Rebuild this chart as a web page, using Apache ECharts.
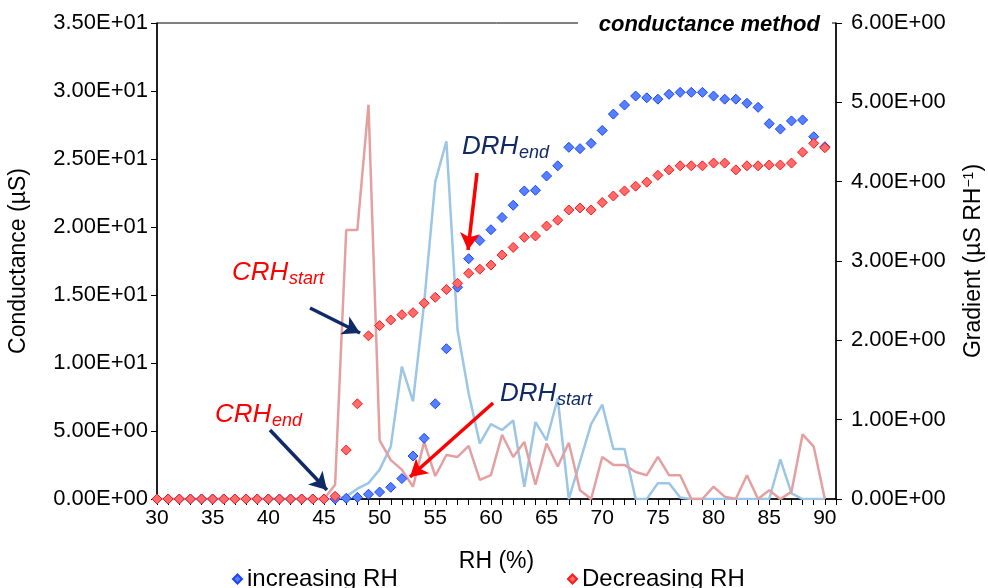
<!DOCTYPE html>
<html><head><meta charset="utf-8">
<script src="https://cdn.jsdelivr.net/npm/echarts@6/dist/echarts.min.js"></script>
<style>html,body{margin:0;padding:0;background:#fff}#c{width:988px;height:588px}</style>
</head><body><div id="c"></div>
<script>
// RH (%) values
const rh = [30,31,32,33,34,35,36,37,38,39,40,41,42,43,44,45,46,47,48,49,50,51,52,53,54,55,56,57,58,59,60,61,62,63,64,65,66,67,68,69,70,71,72,73,74,75,76,77,78,79,80,81,82,83,84,85,86,87,88,89,90];
// Conductance (µS), increasing RH
const incCond = [0,0,0,0,0,0,0,0,0,0,0,0,0,0,0,0,0,0.05,0.12,0.35,0.51,0.86,1.5,3.16,4.46,7.0,11.05,15.57,17.67,19.0,19.8,20.7,21.6,22.65,22.7,23.75,24.5,25.86,25.76,26.15,27.1,28.3,28.97,29.63,29.5,29.4,29.76,29.9,29.9,29.9,29.63,29.4,29.4,29.1,28.8,27.6,27.2,27.8,27.87,26.64,25.9];
// Conductance (µS), decreasing RH
const decCond = [0,0,0,0,0,0,0,0,0,0,0,0,0,0,0,0,0.2,3.6,7.0,12.0,12.75,13.16,13.55,13.7,14.4,14.83,15.4,15.86,16.6,16.9,17.2,17.94,18.5,19.24,19.34,20.07,20.5,21.25,21.4,21.25,21.8,22.28,22.65,23.0,23.3,23.8,24.2,24.5,24.5,24.5,24.7,24.7,24.2,24.5,24.5,24.56,24.56,24.7,25.5,26.15,25.83];
// Gradient (µS RH^-1), increasing RH
const incGrad = [0,0,0,0,0,0,0,0,0,0,0,0,0,0,0,0,0,0.03,0.13,0.2,0.37,0.66,1.67,1.23,2.47,4.0,4.51,2.13,1.33,0.7,0.945,0.87,0.99,0.155,0.97,0.74,1.27,0,0.47,0.945,1.19,0.63,0.63,0,0,0.2,0.2,0.02,0,0,0,0,0,0,0,0,0.5,0.07,0,0,0];
// Gradient (µS RH^-1), decreasing RH
const decGrad = [0,0,0,0,0,0,0,0,0,0,0,0,0,0,0,0,0.18,3.39,3.39,4.97,0.74,0.49,0.37,0.155,0.72,0.29,0.555,0.53,0.67,0.24,0.3,0.81,0.53,0.72,0.18,0.7,0.41,0.71,0.11,0,0.53,0.43,0.43,0.34,0.3,0.53,0.3,0.3,0,0,0.155,0.03,0,0.3,0,0.11,0,0.09,0.815,0.66,0];

// Annotation labels: [main, sub, x(RH), y(conductance), color]
const noteLabels = [
  ['DRH','end',57.40,25.87,'#0f2a66'],
  ['CRH','start',36.74,16.60,'#ff0000'],
  ['CRH','end',35.21,6.16,'#ff0000'],
  ['DRH','start',60.82,7.71,'#0f2a66']
];
// Annotation arrows: [x1,y1,x2,y2,color] in RH / conductance units
const noteArrows = [
  [58.75,23.97,57.94,18.31,'#ff0000'],
  [43.75,14.04,48.24,12.21,'#0f2a66'],
  [40.15,5.07,45.27,0.66,'#0f2a66'],
  [60.19,7.06,52.73,1.62,'#ff0000']
];

const FONT = '"Liberation Sans", Arial, sans-serif';
function fmtE(v){
  if (v === 0) return '0.00E+00';
  const e = Math.floor(Math.log10(Math.abs(v)) + 1e-9);
  const m = v / Math.pow(10, e);
  const ae = Math.abs(e);
  return m.toFixed(2) + 'E' + (e < 0 ? '-' : '+') + (ae < 10 ? '0' + ae : '' + ae);
}
const pairs = arr => rh.map((x, i) => [x, arr[i]]);

const chart = echarts.init(document.getElementById('c'), null, {renderer:'canvas'});
const option = {
  animation: false,
  backgroundColor: '#fff',
  textStyle: {fontFamily: FONT},
  grid: {left:157, right:152, top:23, bottom:89, containLabel:false, outerBoundsMode:'none',
         show:true, borderColor:'#000', borderWidth:1, backgroundColor:'transparent'},
  legend: [
    {data:['increasing RH'], left:227, top:562, icon:'diamond', itemWidth:9, itemHeight:9, itemGap:6,
     textStyle:{fontSize:24, color:'#000', fontFamily:FONT}},
    {data:['Decreasing RH'], left:562, top:562, icon:'diamond', itemWidth:9, itemHeight:9, itemGap:6,
     textStyle:{fontSize:24, color:'#000', fontFamily:FONT}}
  ],
  xAxis: {
    type:'value', min:30, max:91, interval:5,
    name:'RH (%)', nameLocation:'middle', nameGap:51, nameMoveOverlap:false,
    nameTextStyle:{fontSize:23, color:'#000', fontFamily:FONT},
    axisLine:{onZero:false, lineStyle:{color:'#000', width:1.5}},
    axisTick:{show:true, length:6, lineStyle:{color:'#000'}},
    minorTick:{show:true, splitNumber:5, length:6, lineStyle:{color:'#000'}},
    splitLine:{show:false},
    axisLabel:{fontSize:21, color:'#000', margin:9, fontFamily:FONT,
      formatter: v => (v > 90 ? '' : String(v))}
  },
  yAxis: [
    {type:'value', min:0, max:35, interval:5, position:'left',
     name:'Conductance (µS)', nameLocation:'middle', nameGap:127, nameRotate:90, nameMoveOverlap:false,
     nameTextStyle:{fontSize:23, color:'#000', fontFamily:FONT},
     axisLine:{show:true, lineStyle:{color:'#000', width:1.5}},
     axisTick:{show:true, length:6, lineStyle:{color:'#000'}},
     splitLine:{show:false},
     axisLabel:{fontSize:22, color:'#000', margin:9, formatter:fmtE, fontFamily:FONT}},
    {type:'value', min:0, max:6, interval:1, position:'right',
     name:'{a|Gradient (µS RH}{s|−1}{a|)}', nameLocation:'middle', nameGap:126, nameRotate:90, nameMoveOverlap:false,
     nameTextStyle:{fontSize:23, color:'#000', fontFamily:FONT,
       rich:{a:{fontSize:23, color:'#000', fontFamily:FONT}, s:{fontSize:14, color:'#000', fontFamily:FONT, verticalAlign:'top'}}},
     axisLine:{show:true, lineStyle:{color:'#000', width:1.5}},
     axisTick:{show:true, length:6, lineStyle:{color:'#000'}},
     splitLine:{show:false},
     axisLabel:{fontSize:22, color:'#000', margin:15, formatter:fmtE, fontFamily:FONT}}
  ],
  series: [
    {name:'incGrad', type:'line', yAxisIndex:1, data:pairs(incGrad), showSymbol:false, symbol:'none',
     lineStyle:{color:'#9cc6e6', width:2.5}, z:2},
    {name:'decGrad', type:'line', yAxisIndex:1, data:pairs(decGrad), showSymbol:false, symbol:'none',
     lineStyle:{color:'#e4a0a0', width:2.5}, z:2},
    {name:'increasing RH', type:'scatter', yAxisIndex:0, data:pairs(incCond), symbol:'diamond', symbolSize:10,
     itemStyle:{color:'#5580ff', borderColor:'#1c44ff', borderWidth:1, opacity:1}, z:4,
     markLine:{silent:true, symbol:['none','arrow'], symbolSize:[15,17], label:{show:false},
       data: noteArrows.map(a => [
         {coord:[a[0],a[1]], lineStyle:{color:a[4], width:3.5, type:'solid'}, itemStyle:{color:a[4]}},
         {coord:[a[2],a[3]], lineStyle:{color:a[4], width:3.5, type:'solid'}, itemStyle:{color:a[4]}}
       ])}},
    {name:'Decreasing RH', type:'scatter', yAxisIndex:0, data:pairs(decCond), symbol:'diamond', symbolSize:10,
     itemStyle:{color:'#ff6a6a', borderColor:'#ff1a1a', borderWidth:1, opacity:1}, z:5}
  ]
};
chart.setOption(option);

const g = [];
// header text box
g.push({type:'rect', shape:{x:578, y:11, width:254, height:26}, style:{fill:'#fff'}, z:100});
g.push({type:'text', x:820, y:25, z:101, style:{text:'conductance method', font:'italic bold 22px ' + FONT, fill:'#000', align:'right', verticalAlign:'middle'}});
noteLabels.forEach(n => {
  const p = chart.convertToPixel({xAxisIndex:0, yAxisIndex:0}, [n[2], n[3]]);
  g.push({type:'text', x:p[0], y:p[1], z:100, style:{text:n[0], font:'italic 26px ' + FONT, fill:n[4], align:'left', verticalAlign:'middle'}});
  g.push({type:'text', x:p[0] + 57, y:p[1] + 6, z:100, style:{text:n[1], font:'italic 18px ' + FONT, fill:n[4], align:'left', verticalAlign:'middle'}});
});
chart.setOption({graphic: g});
</script>
</body></html>
